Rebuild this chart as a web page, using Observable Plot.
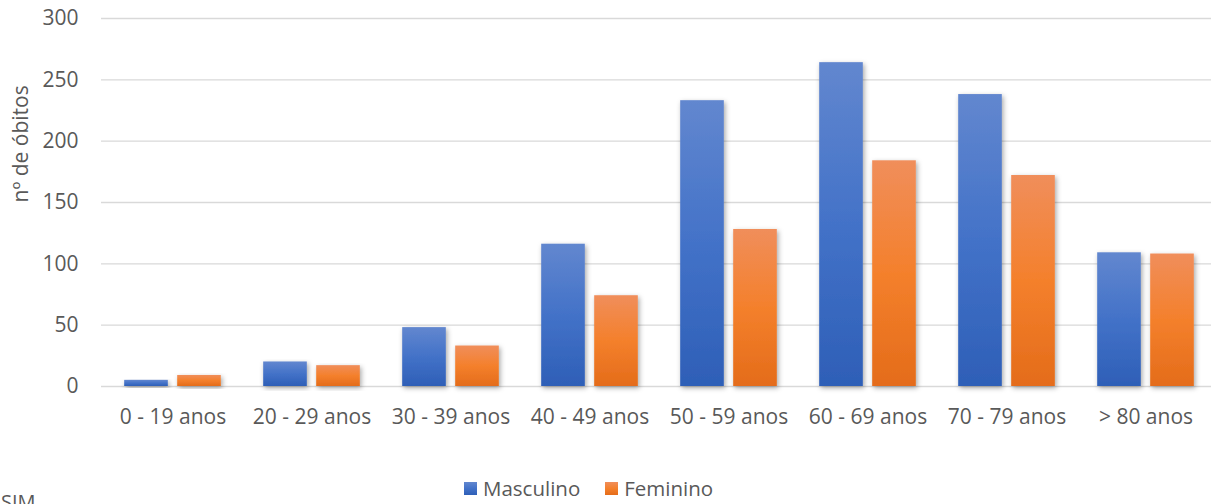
<!DOCTYPE html>
<html>
<head>
<meta charset="utf-8">
<script src="https://cdn.jsdelivr.net/npm/d3@7"></script>
<script src="https://cdn.jsdelivr.net/npm/@observablehq/plot@0.6"></script>
<style>
  html, body { margin: 0; padding: 0; background: #fff; overflow: hidden; }
  #wrap { position: relative; width: 1211px; height: 504px; overflow: hidden; font-family: "Open Sans", sans-serif; color: #595959; }
  #chart { width: 1216px; }
  #chart svg { display: block; max-width: none !important; }
  .legend { position: absolute; top: 477px; left: 464px; display: flex; align-items: center; font-size: 20.5px; line-height: 22px; white-space: nowrap; }
  .legend .item { display: flex; align-items: center; margin-right: 25px; }
  .legend .sw { width: 13px; height: 13px; margin-right: 6px; }
  .source { position: absolute; top: 492px; left: 1px; font-size: 20px; line-height: 20px; }
</style>
</head>
<body>
<div id="wrap">
  <div id="chart"></div>
  <div class="legend" id="legend"></div>
  <div class="source">SIM</div>
</div>
<script>
// Óbitos por faixa etária e sexo
const categories = ["0 - 19 anos", "20 - 29 anos", "30 - 39 anos", "40 - 49 anos", "50 - 59 anos", "60 - 69 anos", "70 - 79 anos", "> 80 anos"];
const masculino = [5, 20, 48, 116, 233, 264, 238, 109];
const feminino = [9, 17, 33, 74, 128, 184, 172, 108];
const yTicks = [0, 50, 100, 150, 200, 250, 300];
const seriesNames = ["Masculino", "Feminino"];
const yLabel = "nº de óbitos";

const rowsM = categories.map((c, i) => ({categoria: c, valor: masculino[i]}));
const rowsF = categories.map((c, i) => ({categoria: c, valor: feminino[i]}));

// layout
const width = 1216, height = 450, marginLeft = 101, marginRight = 0, marginTop = 18, marginBottom = 64;
const bw = (width - marginLeft - marginRight) / categories.length;
const barW = 44, gap = 9;
const side = (bw - 2 * barW - gap) / 2;
const text = "#595959";

const svg = Plot.plot({
  width, height, marginLeft, marginRight, marginTop, marginBottom,
  style: {fontFamily: "Open Sans, sans-serif", fontSize: "21px", color: text, background: "#fff", maxWidth: "none"},
  x: {type: "band", domain: categories, padding: 0},
  y: {domain: [0, 300]},
  marks: [
    Plot.ruleY(yTicks, {stroke: "#d9d9d9", strokeWidth: 1.3}),
    Plot.barY(rowsM, {x: "categoria", y: "valor", fill: "url(#gradM)", insetLeft: side, insetRight: side + barW + gap}),
    Plot.barY(rowsF, {x: "categoria", y: "valor", fill: "url(#gradF)", insetLeft: side + barW + gap, insetRight: side}),
    Plot.axisX({tickSize: 0, tickPadding: 23, label: null, fontSize: 21}),
    Plot.axisY({ticks: yTicks, tickSize: 0, tickPadding: 23, label: null, fontSize: 21}),
    Plot.text([yLabel], {frameAnchor: "left", dx: -80, rotate: -90, fontSize: 21, fill: text})
  ]
});

// gradients and soft shadow for the columns
const defs = d3.select(svg).insert("defs", ":first-child");
function grad(id, stops) {
  const g = defs.append("linearGradient").attr("id", id).attr("x1", 0).attr("y1", 0).attr("x2", 0).attr("y2", 1);
  stops.forEach(([o, c]) => g.append("stop").attr("offset", o).attr("stop-color", c));
}
grad("gradM", [[0, "#6287cf"], [0.5, "#4372c8"], [1, "#2e5fb7"]]);
grad("gradF", [[0, "#f08e5b"], [0.5, "#f4802c"], [1, "#e46c1a"]]);
const f = defs.append("filter").attr("id", "shadow").attr("x", "-30%").attr("y", "-10%").attr("width", "160%").attr("height", "130%");
f.append("feDropShadow").attr("dx", 1.5).attr("dy", 2).attr("stdDeviation", 2.5).attr("flood-color", "#000").attr("flood-opacity", 0.35);
d3.select(svg).selectAll("g[aria-label='bar'] rect").attr("filter", "url(#shadow)");
svg.style.maxWidth = "none";

document.getElementById("chart").appendChild(svg);

// legend
const legend = document.getElementById("legend");
const swatchGrad = {Masculino: "linear-gradient(#6287cf, #4372c8, #2e5fb7)", Feminino: "linear-gradient(#f08e5b, #f4802c, #e46c1a)"};
seriesNames.forEach(name => {
  const item = document.createElement("div");
  item.className = "item";
  const sw = document.createElement("div");
  sw.className = "sw";
  sw.style.background = swatchGrad[name];
  const lab = document.createElement("span");
  lab.textContent = name;
  item.appendChild(sw);
  item.appendChild(lab);
  legend.appendChild(item);
});
</script>
</body>
</html>
